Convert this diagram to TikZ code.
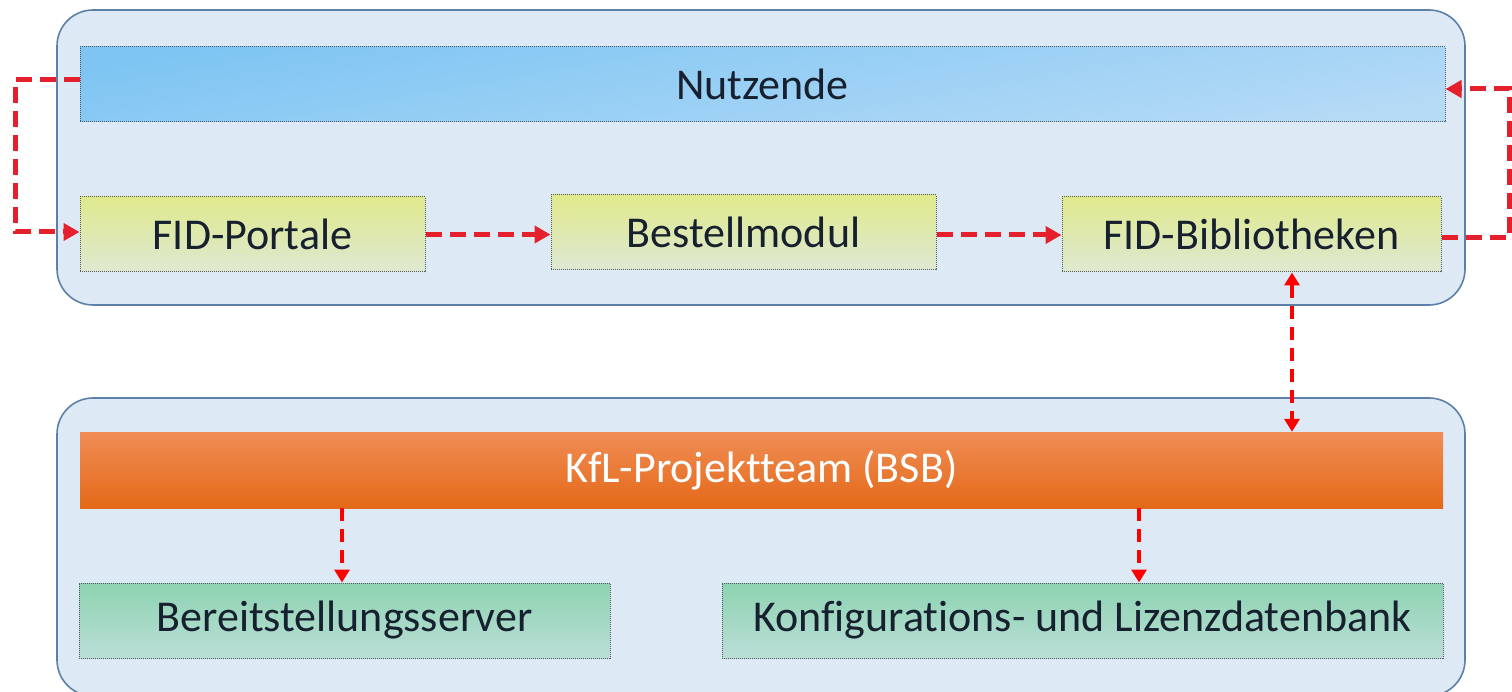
\documentclass[tikz,border=0pt]{standalone}
\usepackage{fontspec}
\setmainfont{Carlito}[Ligatures={NoCommon}]
\usetikzlibrary{arrows.meta}
\definecolor{contfill}{HTML}{DDE9F5}
\definecolor{contdraw}{HTML}{5C80A8}
\definecolor{txt}{HTML}{16202E}
\definecolor{arrred}{HTML}{E4202C}
\definecolor{bordergray}{HTML}{555A60}
\definecolor{blueA}{HTML}{7EC5F3}
\definecolor{blueB}{HTML}{B5DAF6}
\definecolor{yelA}{HTML}{DFE98C}
\definecolor{yelB}{HTML}{DEE8D2}
\definecolor{grnA}{HTML}{8DD3B1}
\definecolor{grnB}{HTML}{BBDED7}
\definecolor{orA}{HTML}{F08D55}
\definecolor{orM}{HTML}{F27C2C}
\definecolor{orB}{HTML}{E46918}
\begin{document}
\begin{tikzpicture}[x=1pt,y=-1pt,
  cont/.style={draw=contdraw, line width=1.6pt, fill=contfill, rounded corners=36pt, inner sep=0pt},
  dbox/.style={draw=bordergray, densely dotted, line width=1pt, inner sep=0pt, font=\fontsize{44}{50}\selectfont, text=txt},
  bluebox/.style={dbox, top color=blueA, bottom color=blueB, shading angle=10},
  ybox/.style={dbox, top color=yelA, bottom color=yelB},
  gbox/.style={dbox, top color=grnA, bottom color=grnB},
  obox/.style={draw=none, inner sep=0pt, top color=orA, middle color=orM, bottom color=orB, text=white, font=\fontsize{44}{50}\selectfont},
  flow/.style={draw=arrred, line width=5pt, dash pattern=on 16pt off 8pt, -{Triangle[length=16pt,width=17pt]}},
  vflow/.style={draw=red, line width=4pt, dash pattern=on 13pt off 8pt},
]
\useasboundingbox (0,0) rectangle (1512,692);
% containers
\node[cont, minimum width=1408pt, minimum height=295pt] (topc) at (761,157.5) {};
\node[cont, minimum width=1408pt, minimum height=298pt] (botc) at (761,547) {};
% top boxes
\node[bluebox, minimum width=1365pt, minimum height=75pt] (nutz) at (762.5,84.5) {Nutzende};
\node[ybox, minimum width=345pt, minimum height=75pt] (port) at (252.5,234.5) {FID-Portale};
\node[ybox, minimum width=385pt, minimum height=75pt] (best) at (743.5,232.5) {Bestellmodul};
\node[ybox, minimum width=379pt, minimum height=75pt] (bib) at (1251.5,234.5) {FID-Bibliotheken};
% bottom boxes
\node[obox, minimum width=1363pt, minimum height=76pt] (kfl) at (761.5,470) {KfL-Projektteam (BSB)};
\node[gbox, minimum width=531pt, minimum height=75pt] (bere) at (344.5,620.5) {Bereitstellungsserver};
\node[gbox, minimum width=721pt, minimum height=75pt] (konf) at (1082.5,620.5) {Konfigurations- und Lizenzdatenbank};
% helper coordinates
\coordinate (L1) at (15,80);
\coordinate (L2) at (15,232);
\coordinate (R1) at (1509,238);
\coordinate (R2) at (1509,89);
\coordinate (V) at (1292,0);
\coordinate (D1) at (342,0);
\coordinate (D2) at (1139,0);
% connectors
\draw[flow] (nutz.west |- L1) -- (L1) -- (L2) -- (port.west |- L2);
\draw[flow] (bib.east |- R1) -- (R1) -- (R2) -- (nutz.east |- R2);
\draw[flow] (port.east) -- (port.east -| best.west);
\draw[flow] (best.east |- 0,235) -- (bib.west |- 0,235);
\draw[vflow, {Triangle[length=13pt,width=15pt]}-{Triangle[length=13pt,width=15pt]}] (bib.south -| V) -- (kfl.north -| V);
\draw[vflow, -{Triangle[length=13pt,width=15pt]}] (kfl.south -| D1) -- (bere.north -| D1);
\draw[vflow, -{Triangle[length=13pt,width=15pt]}] (kfl.south -| D2) -- (konf.north -| D2);
\end{tikzpicture}
\end{document}
